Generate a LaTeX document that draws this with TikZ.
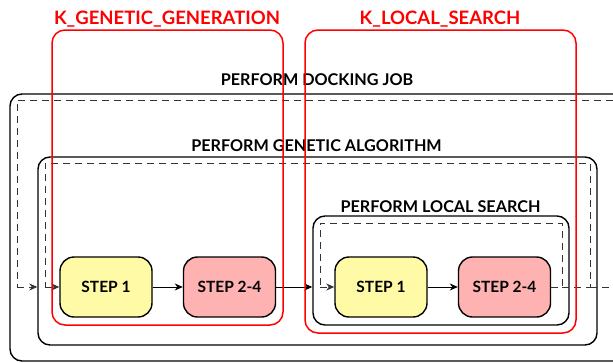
\documentclass[tikz,border=0pt]{standalone}
\usepackage{fontspec}
\setmainfont{Lato}
\usetikzlibrary{arrows.meta}
\begin{document}
\begin{tikzpicture}[x=1pt,y=-1pt,
  font=\fontsize{15.5}{18}\selectfont\bfseries,
  box/.style={draw=black, line width=1.4pt, rounded corners=12pt, inner sep=0pt},
  redbox/.style={draw=red, line width=1.5pt, rounded corners=13pt, inner sep=0pt},
  stepbox/.style={draw=black, line width=1.4pt, rounded corners=14pt, minimum width=92pt, minimum height=60pt, inner sep=0pt, text height=11pt, text depth=0pt},
  yel/.style={fill=yellow!35!white},
  pnk/.style={fill=red!30!white},
  loop/.style={draw=black!80, line width=0.9pt, dash pattern=on 7pt off 5pt},
  arr/.style={-{Stealth[length=8pt,width=7pt,inset=2.5pt]}},
  lab/.style={anchor=base, inner sep=0pt, font=\fontsize{16.2}{18}\selectfont\bfseries},
  redlab/.style={anchor=base, inner sep=0pt, text=red, font=\fontsize{18.5}{20}\selectfont\bfseries}
]
\useasboundingbox (0,0) rectangle (613,362);
% boxes
\node[box, minimum width=615pt, minimum height=267pt] (dock) at (317.5,227.5) {};
\node[box, minimum width=559pt, minimum height=188pt] (ga) at (317.5,251) {};
\node[box, minimum width=256pt, minimum height=109pt] (ls) at (441,270.5) {};
% labels
\node[lab] (ldock) at (317,85) {PERFORM DOCKING JOB};
\node[lab] (lga) at (316.5,151) {PERFORM GENETIC ALGORITHM};
\node[lab] (lls) at (440.5,212) {PERFORM LOCAL SEARCH};
% steps
\node[stepbox, yel] (g1) at (106,287) {STEP 1};
\node[stepbox, pnk] (g2) at (229.5,287) {STEP 2-4};
\node[stepbox, yel] (l1) at (381,287) {STEP 1};
\node[stepbox, pnk] (l2) at (504.5,287) {STEP 2-4};
% loop corner coordinates
\coordinate (lsR) at (562,287);
\coordinate (lsTR) at (562,223);
\coordinate (lsTL) at (320,223);
\coordinate (lsL) at (320,287);
\coordinate (gaR) at (590,287);
\coordinate (gaTR) at (590,163);
\coordinate (gaTL) at (45,163);
\coordinate (gaL) at (45,287);
\coordinate (dR) at (640,287);
\coordinate (dTR) at (640,100);
\coordinate (dTL) at (17,100);
\coordinate (dL) at (17,287);
% dashed loops
\draw[loop] (l2.east) -- (lsR) -- (lsTR) -- (lsTL) -- (lsL);
\draw[loop, arr] (lsL) -- (l1.west);
\draw[loop] (lsR) -- (gaR) -- (gaTR) -- (gaTL) -- (gaL);
\draw[loop, arr] (gaL) -- (g1.west);
\draw[loop] (gaR) -- (dR) -- (dTR) -- (dTL) -- (dL);
\draw[loop, arr] (dL) -- (ga.west |- g1.west);
% solid arrows
\draw[line width=0.9pt, arr] (g1) -- (g2);
\draw[line width=0.9pt, arr] (g2) -- (ls.west |- g2.east);
\draw[line width=0.9pt, arr] (l1) -- (l2);
% red kernels
\node[redbox, minimum width=231pt, minimum height=295pt] (kg) at (167.5,177.5) {};
\node[redbox, minimum width=271pt, minimum height=303pt] (kl) at (440.5,181.5) {};
\node[redlab] (lkg) at (167,24) {K\_GENETIC\_GENERATION};
\node[redlab] (lkl) at (440,24) {K\_LOCAL\_SEARCH};
\end{tikzpicture}
\end{document}
